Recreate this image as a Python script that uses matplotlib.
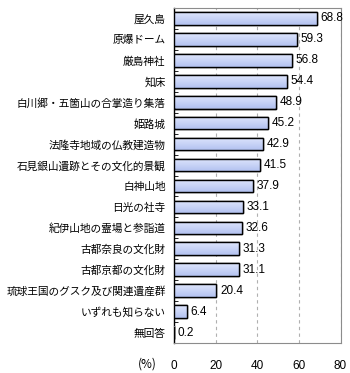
import numpy as np
import matplotlib
matplotlib.use("Agg")
import matplotlib.pyplot as plt

plt.rcParams['font.family'] = ['Noto Sans CJK JP', 'DejaVu Sans']

labels = ['屋久島', '原爆ドーム', '厳島神社', '知床', '白川郷・五箇山の合掌造り集落',
          '姫路城', '法隆寺地域の仏教建造物', '石見銀山遺跡とその文化的景観', '白神山地',
          '日光の社寺', '紀伊山地の霊場と参詣道', '古都奈良の文化財', '古都京都の文化財',
          '琉球王国のグスク及び関連遺産群', 'いずれも知らない', '無回答']
values = [68.8, 59.3, 56.8, 54.4, 48.9, 45.2, 42.9, 41.5, 37.9,
          33.1, 32.6, 31.3, 31.1, 20.4, 6.4, 0.2]
xticks = [0, 20, 40, 60, 80]

fig = plt.figure(figsize=(3.5, 3.73), dpi=100)
ax = fig.add_axes([174/350, 30/373, 166.5/350, 335/373])

y = np.arange(len(labels))
bars = ax.barh(y, values, height=0.6, color='#c4cff6', edgecolor='black', linewidth=1.0, zorder=3)

# vertical gradient inside each bar
grad = np.linspace(0, 1, 50).reshape(-1, 1)
cmap = matplotlib.colors.LinearSegmentedColormap.from_list('g', ['#dfe6fd', '#b3c2f0'])
for b in bars:
    x0, y0 = b.get_x(), b.get_y()
    w, h = b.get_width(), b.get_height()
    im = ax.imshow(grad, extent=[x0, x0 + w, y0 + h, y0], aspect='auto', cmap=cmap, zorder=3.5,
                   origin='upper')
    im.set_clip_path(b)
    ax.add_patch(plt.Rectangle((x0, y0), w, h, fill=False, edgecolor='black', linewidth=1.0, zorder=4))

for yi, v in zip(y, values):
    ax.text(v + 1.7, yi, f'{v:.1f}', va='center', ha='left', fontsize=8.5,
            family='Liberation Sans', zorder=5)

ax.set_xlim(0, 80)
ax.set_ylim(len(labels) - 0.5, -0.5)
ax.set_xticks(xticks)
ax.set_xticklabels([str(t) for t in xticks], family='Liberation Sans', fontsize=8.5)
ax.tick_params(axis='x', length=0, pad=12)
ax.set_yticks(y)
ax.set_yticklabels(labels, fontsize=7.7)
ax.tick_params(axis='y', length=0, pad=6)
ax.set_yticks(np.arange(len(labels) + 1) - 0.5, minor=True)
ax.tick_params(axis='y', which='minor', direction='in', length=3, color='black')

ax.grid(axis='x', linestyle=(0, (3, 3)), color='#b0b0b0', linewidth=0.8, zorder=0)
for s in ['top', 'right', 'bottom']:
    ax.spines[s].set_color('#8c8c8c')
ax.spines['left'].set_color('black')
ax.spines['left'].set_linewidth(1.0)

fig.text(138/350, 1 - 364/373, '(%)', ha='left', va='center', fontsize=8.5)

fig.savefig('out.png', dpi=100)
